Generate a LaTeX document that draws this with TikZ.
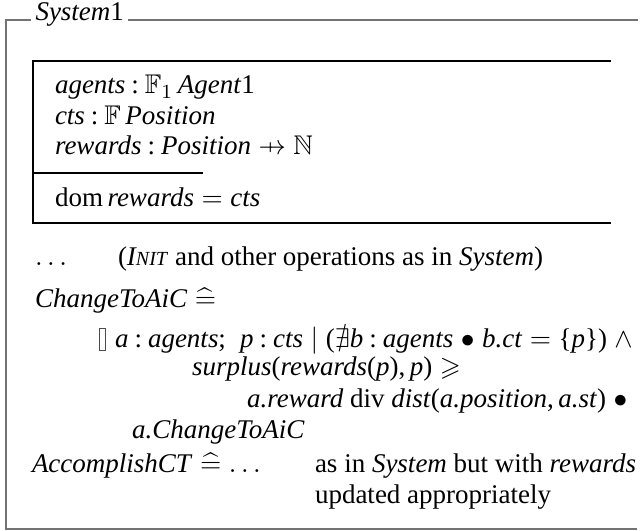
\documentclass[tikz,border=0pt]{standalone}
\usepackage{amssymb}
\usepackage{fontspec}
\setmainfont{Liberation Serif}
\newcommand{\zi}[1]{\textit{#1}}
\newcommand{\zpfun}{\mathrel{\mbox{\ooalign{\hfil$\mapstochar\mkern5mu$\hfil\cr$\rightarrow$\cr}}}}
\begin{document}
\begin{tikzpicture}[x=0.4pt,y=-0.4pt,
  txt/.style={anchor=base west, inner sep=0pt, outer sep=0pt, font=\fontsize{10.8}{13}\selectfont},
  frame/.style={draw=black!55, line width=0.8pt},
  boxline/.style={draw=black, line width=0.45pt}]
\useasboundingbox (0,0) rectangle (644,531);
% outer frame
\coordinate (tl) at (6,20);
\coordinate (tr) at (638,20);
\coordinate (bl) at (6,529);
\coordinate (br) at (637,529);
\node[anchor=base west, inner xsep=1.6pt, inner ysep=0pt, font=\fontsize{10.8}{13}\selectfont] (title) at (31,21) {\zi{System}1};
\draw[frame] (tl -| title.west) -- (tl) -- (bl) -- (br);
\draw[frame] (title.east |- tl) -- (tr);
% schema box
\draw[boxline] (611,61) -- (33,61) -- (33,223) -- (611,223);
\draw[boxline] (33,173) -- (203,173);
\node[txt] (l1) at (55,94) {\zi{agents}\::\:$\mathbb{F}_1$\,\zi{Agent}1};
\node[txt] (l2) at (55,125) {\zi{cts}\::\:$\mathbb{F}$\,\zi{Position}};
\node[txt] (l3) at (55,155) {\zi{rewards}\::\:\zi{Position}\;$\zpfun$\;$\mathbb{N}$};
\node[txt] (l4) at (55,207) {dom\,\zi{rewards}\;$=$\;\zi{cts}};
% other text
\node[txt] (dots) at (35,265) {$\ldots$};
\node[txt] (init) at (118,265) {(\zi{I{\fontsize{8}{9}\selectfont NIT}} and other operations as in \zi{System})};
\node[txt] (cta) at (35,308) {\zi{ChangeToAiC}\;$\widehat{=}$};
\draw[draw=black!70, line width=0.4pt] (99,328) rectangle (105,350);
\node[txt] (q1) at (115,347) {\zi{a}\::\:\zi{agents};\; \zi{p}\::\:\zi{cts}\;$|$\;($\nexists$\zi{b}\::\:\zi{agents}\;$\bullet$\;\zi{b.ct}\;$=$\;\{\zi{p}\})\;$\wedge$};
\node[txt] (q2) at (192,375) {\zi{surplus}(\zi{rewards}(\zi{p}),\,\zi{p})\;$\geqslant$};
\node[txt] (q3) at (247,407) {\zi{a.reward} div \zi{dist}(\zi{a.position},\,\zi{a.st})\;$\bullet$};
\node[txt] (q4) at (132,438) {\zi{a.ChangeToAiC}};
\node[txt] (acc) at (32,472) {\zi{AccomplishCT}\;$\widehat{=}$\;$\ldots$};
\node[txt] (as1) at (315,472) {as in \zi{System} but with \zi{rewards}};
\node[txt] (as2) at (315,503) {updated appropriately};
\end{tikzpicture}
\end{document}
